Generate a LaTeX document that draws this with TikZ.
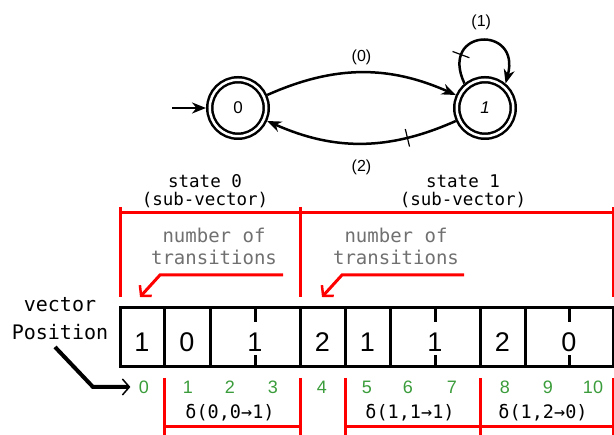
\documentclass[tikz,border=0pt]{standalone}
\usepackage{fontspec}
\setmainfont{Liberation Sans}
\setmonofont{DejaVu Sans Mono}
\usetikzlibrary{arrows.meta, automata, positioning}
\definecolor{idxgreen}{RGB}{58,156,58}
\definecolor{notegray}{RGB}{112,112,112}

\begin{document}
\begin{tikzpicture}[x=1pt,y=1pt,->,>={Stealth[length=14pt,width=11pt,inset=4.5pt]},line width=2.5pt,
every state/.style={draw,line width=2.5pt,minimum size=56.5pt,inner sep=0pt,font=\fontsize{17}{20}\selectfont},
accepting/.style={double,double distance=2.5pt,outer sep=3.75pt},
cut/.style={draw,line width=1.2pt,sloped,minimum width=0pt,minimum height=18pt,inner sep=0pt},
elabel/.style={font=\fontsize{16}{19}\selectfont},
cell/.style={draw,line width=3pt,minimum height=59pt,inner sep=0pt,outer sep=0pt,text height=29pt,font=\fontsize{27}{30}\selectfont},
half/.style={-,line width=3pt},
idx/.style={text=idxgreen,font=\fontsize{18}{20}\selectfont},
bracket/.style={-,draw=red,line width=3pt},
sub/.style={align=center,font=\ttfamily\fontsize{17.5}{18}\selectfont},
note/.style={align=center,text=notegray,font=\ttfamily\fontsize{19}{22}\selectfont},
noteline/.style={-{Straight Barb[length=7pt,width=16pt,line width=2.5pt]},draw=red,line width=3pt},
delta/.style={font=\ttfamily\fontsize{18.5}{20}\selectfont},
pointer/.style={line width=4pt,-{Straight Barb[length=7pt,width=16pt,line width=1.5pt]},shorten >=4pt}]
\useasboundingbox (0,0) rectangle (614,435);

% the automaton
\node[state,initial,accepting,initial text=,initial distance=34pt] (q0) at (238,327) {0};
\node[state,accepting,on grid,right=247pt of q0] (q1) {\itshape 1};
\path (q0) edge[bend left=24] node[elabel,above=3pt] {(0)} (q1)
      (q1) edge[bend left=24] node[cut,pos=.25] {} node[elabel,below=12pt] {(2)} (q0);
% self loop, falling almost straight down into q1
\draw (q1.130) .. controls +(115:61) and +(75:61) .. node[cut,pos=.22] {} node[elabel,above=6pt] {(1)} (q1.50);

% sub-vectors
\node[sub] (s0) at (205,244) {state 0\\(sub-vector)};
\node[sub] (s1) at (463,244) {state 1\\(sub-vector)};
\draw[bracket] (120,228) -- (120,138) (300,228) -- (300,138) (613,228) -- (613,138)
               (120,222) -- (613,222);

\node[note] (n0) at (214,189) {number of\\transitions};
\node[note] (n1) at (396,189) {number of\\transitions};
\coordinate (n0 tail) at (283,160);
\coordinate (n1 tail) at (464,160);
\draw[noteline] (n0 tail) -- ++(-123,0) -- ++(-20,-22);
\draw[noteline] (n1 tail) -- ++(-122,0) -- ++(-20,-22);

% the vector
\node[cell,minimum width=44pt] (c0) at (142,97.5) {1};
\node[cell,minimum width=46pt,right=0pt of c0] (c1) {0};
\node[cell,minimum width=90pt,right=0pt of c1] (c23) {1};
\node[cell,minimum width=45pt,right=0pt of c23] (c4) {2};
\node[cell,minimum width=45pt,right=0pt of c4] (c5) {1};
\node[cell,minimum width=90pt,right=0pt of c5] (c67) {1};
\node[cell,minimum width=45pt,right=0pt of c67] (c8) {2};
\node[cell,minimum width=88pt,right=0pt of c8] (c910) {0};
\foreach \c in {c23,c67,c910}
  \draw[half] (\c.north) -- ++(0,-14) (\c.south) -- ++(0,12);

\foreach \x/\n in {144/0,188/1,230/2,273/3,322/4,367/5,408/6,452/7,505/8,548/9,593/10}
  \node[idx] (i\n) at (\x,48) {\n};

\node[align=center,font=\ttfamily\fontsize{20}{28}\selectfont] (vp) at (60,116) {vector\\Position};
\coordinate (vp tail) at (55,88);
\draw[pointer] (vp tail) -- ++(38,-40) -- (i0);

% transitions
\draw[bracket] (164,57) -- (164,0) (300,57) -- (300,0) (345,57) -- (345,0)
               (480,57) -- (480,0) (613,57) -- (613,0)
               (164,8) -- (300,8) (345,8) -- (613,8);
\node[delta] (d0) at (230,22) {δ(0,0→1)};
\node[delta] (d1) at (410,22) {δ(1,1→1)};
\node[delta] (d2) at (543,22) {δ(1,2→0)};
\end{tikzpicture}
\end{document}
